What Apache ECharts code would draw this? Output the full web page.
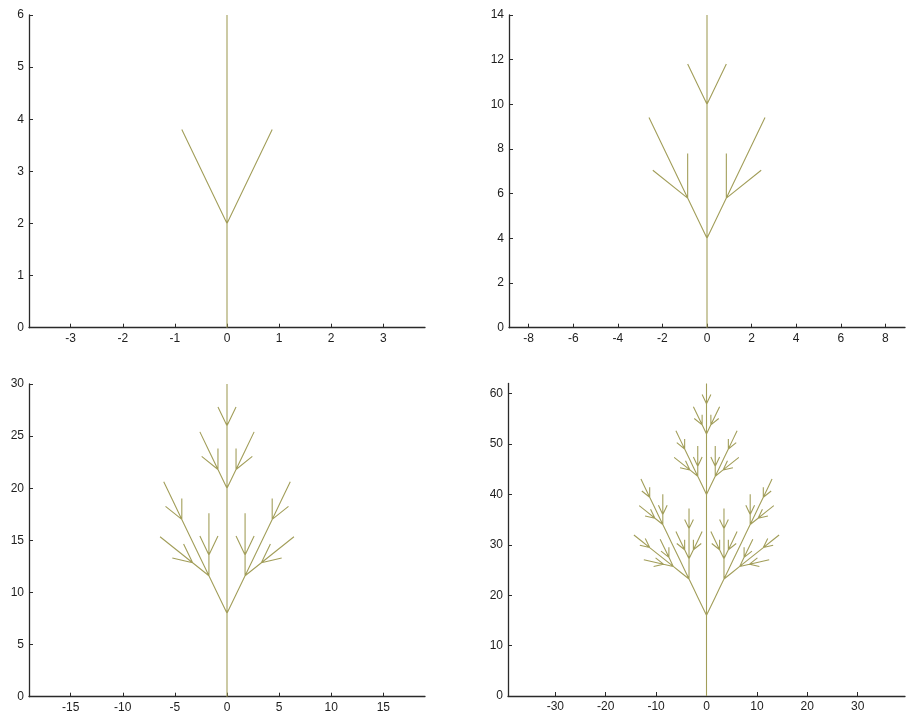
<!DOCTYPE html>
<html>
<head>
<meta charset="utf-8">
<title>Fractal plant, generations 1-4</title>
<script src="https://cdn.jsdelivr.net/npm/echarts@6/dist/echarts.min.js"></script>
<style>
  html, body { margin: 0; padding: 0; background: #fff; }
  #chart { width: 907px; height: 716px; }
</style>
</head>
<body>
<div id="chart"></div>
<script>
// L-system: axiom X, rules X -> F[+X][-X]FX, F -> FF; both F and X draw a step.
var axiom = 'X';
var ruleX = 'F[+X][-X]FX';
var ruleF = 'FF';
var stepLength = 2;
var turnAngleDeg = 25.7;
var generations = [1, 2, 3, 4];

// Axis ranges and tick labels for each panel
var xHalfRange = [3.8, 8.88, 19.0, 39.4];
var yMax = [6, 14, 30, 62];
var xTicks = [
  [-3, -2, -1, 0, 1, 2, 3],
  [-8, -6, -4, -2, 0, 2, 4, 6, 8],
  [-15, -10, -5, 0, 5, 10, 15],
  [-30, -20, -10, 0, 10, 20, 30]
];
var yTicks = [
  [0, 1, 2, 3, 4, 5, 6],
  [0, 2, 4, 6, 8, 10, 12, 14],
  [0, 5, 10, 15, 20, 25, 30],
  [0, 10, 20, 30, 40, 50, 60]
];

function expand(str, n) {
  for (var i = 0; i < n; i++) {
    var out = '';
    for (var j = 0; j < str.length; j++) {
      var c = str[j];
      if (c === 'X') out += ruleX;
      else if (c === 'F') out += ruleF;
      else out += c;
    }
    str = out;
  }
  return str;
}

// Turtle walk: returns polyline points separated by nulls
function turtle(str) {
  var pts = [];
  var x = 0, y = 0, a = 90;
  var stack = [];
  var penDown = false;
  var rad = Math.PI / 180;
  for (var i = 0; i < str.length; i++) {
    var c = str[i];
    if (c === 'F' || c === 'X') {
      if (!penDown) { pts.push([x, y]); penDown = true; }
      x += stepLength * Math.cos(a * rad);
      y += stepLength * Math.sin(a * rad);
      pts.push([x, y]);
    } else if (c === '+') {
      a += turnAngleDeg;
    } else if (c === '-') {
      a -= turnAngleDeg;
    } else if (c === '[') {
      stack.push([x, y, a]);
    } else if (c === ']') {
      var s = stack.pop();
      x = s[0]; y = s[1]; a = s[2];
      if (penDown) { pts.push(null); penDown = false; }
    }
  }
  return pts;
}

var gridBoxes = [
  { left: 29, top: 15, width: 396, height: 312.7 },
  { left: 509, top: 15, width: 396, height: 312.7 },
  { left: 29, top: 384, width: 396, height: 312.7 },
  { left: 508, top: 383.5, width: 397, height: 312.5 }
];

var axisColor = '#2a2a2a';
var labelStyle = { color: '#1e1e1e', fontSize: 12, fontFamily: 'Liberation Sans, Arial, sans-serif' };

var grids = [], xAxes = [], yAxes = [], series = [];
generations.forEach(function (g, i) {
  grids.push(Object.assign({ containLabel: false }, gridBoxes[i]));
  xAxes.push({
    type: 'value', gridIndex: i,
    min: -xHalfRange[i], max: xHalfRange[i],
    splitLine: { show: false },
    axisLine: { show: true, onZero: false, lineStyle: { color: axisColor, width: 1.3 } },
    axisTick: { show: true, inside: true, length: 4, customValues: xTicks[i], lineStyle: { color: axisColor } },
    axisLabel: Object.assign({ margin: 5, customValues: xTicks[i], formatter: function (v) { return String(v); } }, labelStyle)
  });
  yAxes.push({
    type: 'value', gridIndex: i,
    min: 0, max: yMax[i],
    splitLine: { show: false },
    axisLine: { show: true, onZero: false, lineStyle: { color: axisColor, width: 1.3 } },
    axisTick: { show: true, inside: true, length: 4, customValues: yTicks[i], lineStyle: { color: axisColor } },
    axisLabel: Object.assign({ margin: 5, customValues: yTicks[i] }, labelStyle)
  });
  series.push({
    type: 'line', xAxisIndex: i, yAxisIndex: i,
    data: turtle(expand(axiom, g)),
    showSymbol: false, symbol: 'none',
    connectNulls: false, silent: true, animation: false,
    lineStyle: { color: '#a29e5a', width: 1.1 },
    z: 1
  });
});

var chart = echarts.init(document.getElementById('chart'), null, { renderer: 'canvas' });
chart.setOption({
  backgroundColor: '#ffffff',
  animation: false,
  grid: grids,
  xAxis: xAxes,
  yAxis: yAxes,
  series: series
});
</script>
</body>
</html>
